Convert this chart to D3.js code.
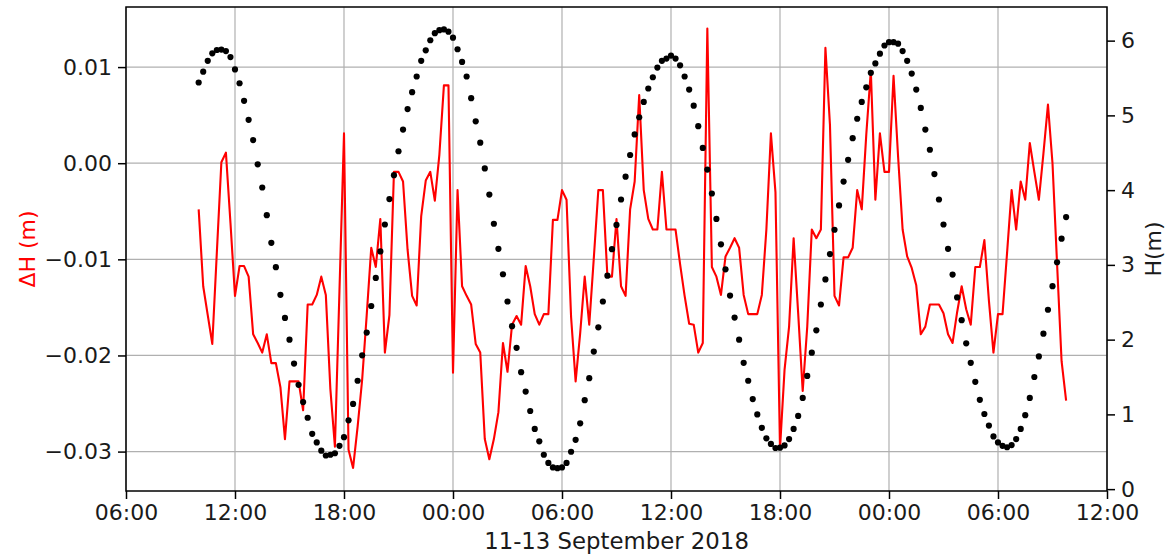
<!DOCTYPE html>
<html>
<head>
<meta charset="utf-8">
<script src="https://cdn.jsdelivr.net/npm/d3@7"></script>
<style>
  body { margin: 0; background: #fff; }
  svg { display: block; }
  text { font-family: "DejaVu Sans", sans-serif; }
</style>
</head>
<body>
<svg id="chart" width="1169" height="556"></svg>
<script>
// Sampling: one reading every 15 minutes from 11 Sep 2018 10:00 (UTC)
const startTime = Date.UTC(2018, 8, 11, 10, 0);
const stepMinutes = 15;

// Residual water level ΔH (m), left axis
const deltaH = [
  -0.0048,-0.0128,-0.0158,-0.0188,-0.0093,0.0001,0.0011,-0.0062,-0.0138,-0.0107,
  -0.0107,-0.0118,-0.0178,-0.0187,-0.0197,-0.0178,-0.0208,-0.0208,-0.0233,-0.0287,
  -0.0227,-0.0227,-0.0227,-0.0257,-0.0147,-0.0147,-0.0137,-0.0118,-0.0137,-0.0235,
  -0.0295,-0.0133,0.0031,-0.0298,-0.0317,-0.0274,-0.0225,-0.0158,-0.0088,-0.0108,
  -0.0058,-0.0197,-0.0158,-0.0009,-0.0009,-0.0019,-0.0090,-0.0138,-0.0148,-0.0055,
  -0.0018,-0.0009,-0.0039,0.0009,0.0081,0.0081,-0.0218,-0.0028,-0.0128,-0.0138,
  -0.0147,-0.0188,-0.0197,-0.0287,-0.0308,-0.0287,-0.0259,-0.0187,-0.0217,-0.0168,
  -0.0159,-0.0168,-0.0107,-0.0128,-0.0157,-0.0168,-0.0157,-0.0157,-0.0059,-0.0059,
  -0.0028,-0.0038,-0.0160,-0.0227,-0.0177,-0.0118,-0.0168,-0.0099,-0.0028,-0.0028,
  -0.0118,-0.0118,-0.0058,-0.0128,-0.0138,-0.0048,-0.0019,0.0071,-0.0028,-0.0058,
  -0.0069,-0.0069,-0.0009,-0.0069,-0.0069,-0.0069,-0.0105,-0.0138,-0.0167,-0.0168,
  -0.0197,-0.0187,0.0140,-0.0108,-0.0118,-0.0137,-0.0097,-0.0088,-0.0078,-0.0088,
  -0.0137,-0.0157,-0.0157,-0.0157,-0.0137,-0.0069,0.0031,-0.0030,-0.0297,-0.0215,
  -0.0170,-0.0078,-0.0156,-0.0237,-0.0170,-0.0069,-0.0078,-0.0069,0.0120,0.0040,
  -0.0138,-0.0148,-0.0098,-0.0098,-0.0088,-0.0028,-0.0048,0.0030,0.0096,-0.0038,
  0.0031,-0.0009,-0.0009,0.0091,0.0007,-0.0069,-0.0097,-0.0109,-0.0127,-0.0178,
  -0.0170,-0.0147,-0.0147,-0.0147,-0.0156,-0.0178,-0.0187,-0.0155,-0.0128,-0.0152,
  -0.0168,-0.0108,-0.0108,-0.0080,-0.0143,-0.0197,-0.0157,-0.0157,-0.0093,-0.0028,
  -0.0069,-0.0019,-0.0038,0.0021,-0.0009,-0.0038,0.0010,0.0061,0.0000,-0.0104,
  -0.0206,-0.0247
];

// Tide height H (m), right axis
const tideH = [
  5.44,5.585,5.73,5.83,5.875,5.88,5.86,5.78,5.615,5.43,
  5.195,4.94,4.67,4.345,4.035,3.665,3.295,2.97,2.60,2.29,
  2.00,1.68,1.395,1.165,0.955,0.74,0.625,0.515,0.45,0.46,
  0.48,0.58,0.695,0.92,1.14,1.45,1.79,2.095,2.45,2.825,
  3.18,3.54,3.88,4.20,4.52,4.81,5.085,5.31,5.52,5.73,
  5.87,6.005,6.10,6.14,6.15,6.12,6.04,5.885,5.715,5.52,
  5.23,4.92,4.635,4.29,3.94,3.55,3.215,2.875,2.51,2.18,
  1.89,1.565,1.305,1.045,0.805,0.64,0.46,0.35,0.29,0.28,
  0.29,0.35,0.50,0.66,0.88,1.19,1.485,1.84,2.165,2.51,
  2.855,3.21,3.535,3.875,4.18,4.47,4.745,4.975,5.18,5.36,
  5.51,5.64,5.73,5.76,5.80,5.76,5.67,5.52,5.345,5.13,
  4.855,4.565,4.275,3.955,3.615,3.275,2.94,2.59,2.295,2.00,
  1.69,1.45,1.205,1.00,0.82,0.68,0.605,0.55,0.555,0.585,
  0.67,0.805,0.98,1.22,1.515,1.825,2.125,2.47,2.805,3.145,
  3.47,3.795,4.115,4.405,4.695,4.955,5.18,5.375,5.57,5.695,
  5.825,5.935,5.98,5.98,5.96,5.86,5.73,5.56,5.345,5.10,
  4.81,4.54,4.215,3.875,3.54,3.215,2.87,2.565,2.26,1.95,
  1.69,1.435,1.195,1.005,0.85,0.705,0.625,0.58,0.56,0.59,
  0.67,0.805,0.99,1.22,1.50,1.775,2.08,2.40,2.715,3.035,
  3.35,3.64
];

// Axis ticks
const leftTicks = [-0.03, -0.02, -0.01, 0.00, 0.01];
const rightTicks = [0, 1, 2, 3, 4, 5, 6];
const xStart = Date.UTC(2018, 8, 11, 6, 0);
const xEnd = Date.UTC(2018, 8, 13, 12, 0);
const xLabel = "11-13 September 2018";
const leftLabel = "ΔH (m)";
const rightLabel = "H(m)";

const times = tideH.map((_, i) => new Date(startTime + i * stepMinutes * 60000));

const W = 1169, H = 556;
const m = { left: 126, right: 62, top: 7, bottom: 65 };
const iw = W - m.left - m.right, ih = H - m.top - m.bottom;
const FS = 22;

const svg = d3.select("#chart");
const g = svg.append("g").attr("transform", `translate(${m.left},${m.top})`);

const x = d3.scaleUtc().domain([new Date(xStart), new Date(xEnd)]).range([0, iw]);
const yL = d3.scaleLinear().domain([-0.03410, 0.01625]).range([ih, 0]);
const yR = d3.scaleLinear().domain([-0.025, 6.45]).range([ih, 0]);

const xTicks = d3.utcHour.every(6).range(new Date(xStart), new Date(xEnd + 1));

// grid
const grid = g.append("g").attr("stroke", "#b0b0b0").attr("stroke-width", 1.2);
grid.selectAll(".gx").data(xTicks).join("line")
  .attr("x1", d => x(d)).attr("x2", d => x(d)).attr("y1", 0).attr("y2", ih);
grid.selectAll(".gy").data(leftTicks).join("line")
  .attr("x1", 0).attr("x2", iw).attr("y1", d => yL(d)).attr("y2", d => yL(d));

// ΔH line
g.append("path")
  .datum(deltaH)
  .attr("fill", "none")
  .attr("stroke", "#ff0000")
  .attr("stroke-width", 2.1)
  .attr("stroke-linejoin", "round")
  .attr("d", d3.line().x((d, i) => x(times[i])).y(d => yL(d)));

// H dots
g.append("g").selectAll("circle").data(tideH).join("circle")
  .attr("cx", (d, i) => x(times[i]))
  .attr("cy", d => yR(d))
  .attr("r", 3.1)
  .attr("fill", "#000");

// axes
function styleAxis(sel) {
  sel.select(".domain").remove();
  sel.selectAll(".tick line").attr("stroke", "#000").attr("stroke-width", 1.5);
  sel.selectAll(".tick text").attr("fill", "#1a1a1a").style("font-size", FS + "px")
    .style("font-family", '"DejaVu Sans", sans-serif');
}

g.append("g").attr("transform", `translate(0,${ih})`)
  .call(d3.axisBottom(x).tickValues(xTicks).tickFormat(d3.utcFormat("%H:%M")).tickSize(8).tickPadding(5))
  .call(styleAxis);

g.append("g")
  .call(d3.axisLeft(yL).tickValues(leftTicks).tickFormat(d3.format(".2f")).tickSize(8).tickPadding(6))
  .call(styleAxis);

g.append("g").attr("transform", `translate(${iw},0)`)
  .call(d3.axisRight(yR).tickValues(rightTicks).tickFormat(d3.format("d")).tickSize(8).tickPadding(6))
  .call(styleAxis);

// spines
g.append("rect").attr("x", 0).attr("y", 0).attr("width", iw).attr("height", ih)
  .attr("fill", "none").attr("stroke", "#000").attr("stroke-width", 1.5);

// labels
svg.append("text")
  .attr("transform", `translate(${m.left + iw / 2},549)`)
  .attr("text-anchor", "middle")
  .attr("fill", "#1a1a1a")
  .style("font-size", "22.8px")
  .text(xLabel);

svg.append("text")
  .attr("transform", `translate(27,${m.top + ih / 2}) rotate(-90)`)
  .attr("text-anchor", "middle")
  .attr("dy", "0.35em")
  .attr("fill", "#ff0000")
  .style("font-size", FS + "px")
  .text(leftLabel);

svg.append("text")
  .attr("transform", `translate(1153,${m.top + ih / 2}) rotate(-90)`)
  .attr("text-anchor", "middle")
  .attr("dy", "0.35em")
  .attr("fill", "#1a1a1a")
  .style("font-size", FS + "px")
  .text(rightLabel);
</script>
</body>
</html>
